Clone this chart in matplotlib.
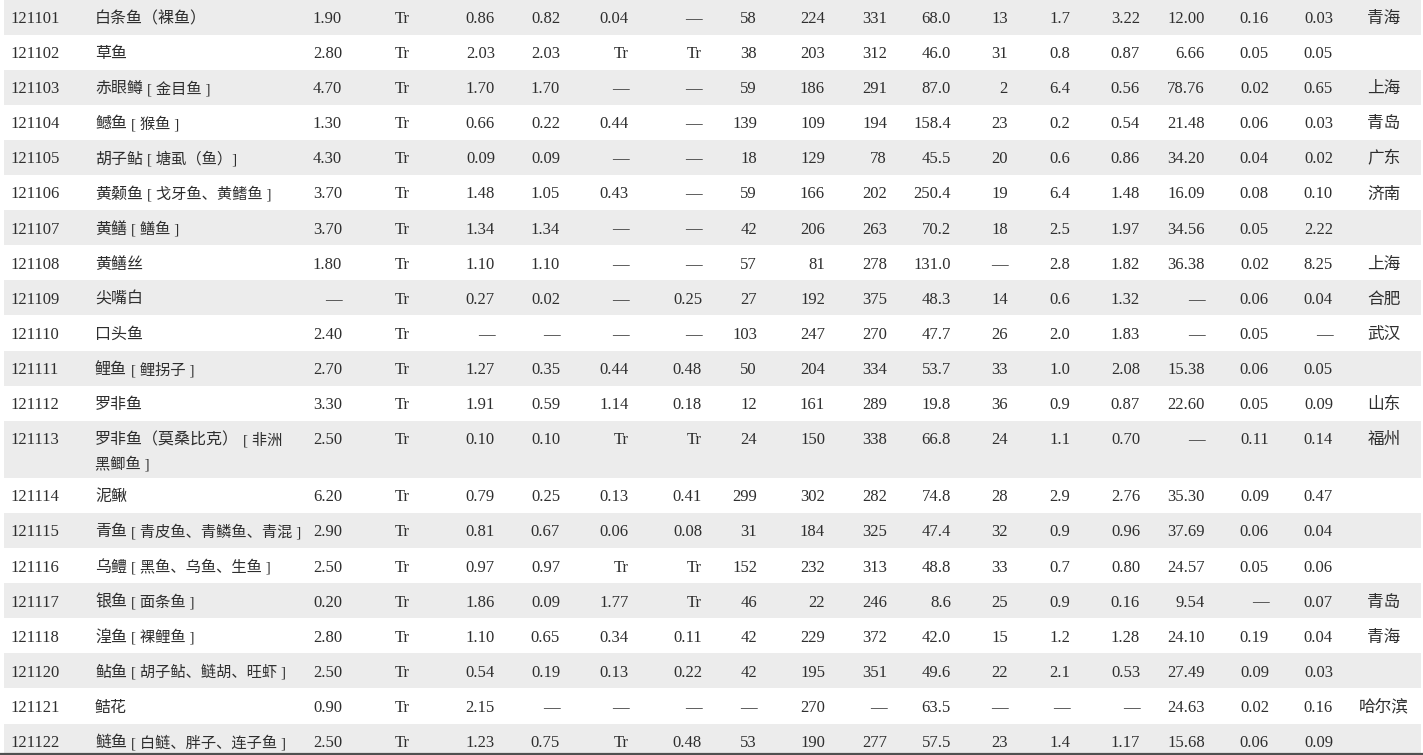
import matplotlib
matplotlib.use("Agg")
from matplotlib import pyplot as plt
from matplotlib.patches import Rectangle

plt.rcParams['font.family'] = ['Liberation Serif', 'Noto Sans CJK SC', 'DejaVu Sans']

# === Data ===
codes = ["121101", "121102", "121103", "121104", "121105", "121106", "121107",
         "121108", "121109", "121110", "121111", "121112", "121113", "121114",
         "121115", "121116", "121117", "121118", "121120", "121121", "121122"]
names = ["白条鱼（裸鱼）", "草鱼", "赤眼鳟 [ 金目鱼 ]", "鳡鱼 [ 猴鱼 ]",
         "胡子鲇 [ 塘虱（鱼）]", "黄颡鱼 [ 戈牙鱼、黄鳍鱼 ]", "黄鳝 [ 鳝鱼 ]",
         "黄鳝丝", "尖嘴白", "口头鱼", "鲤鱼 [ 鲤拐子 ]", "罗非鱼",
         "罗非鱼（莫桑比克）[ 非洲\n黑鲫鱼 ]", "泥鳅", "青鱼 [ 青皮鱼、青鳞鱼、青混 ]",
         "乌鳢 [ 黑鱼、乌鱼、生鱼 ]", "银鱼 [ 面条鱼 ]", "湟鱼 [ 裸鲤鱼 ]",
         "鲇鱼 [ 胡子鲇、鲢胡、旺虾 ]", "鲒花", "鲢鱼 [ 白鲢、胖子、连子鱼 ]"]
niacin = ["1.90", "2.80", "4.70", "1.30", "4.30", "3.70", "3.70", "1.80", "—", "2.40", "2.70",
          "3.30", "2.50", "6.20", "2.90", "2.50", "0.20", "2.80", "2.50", "0.90", "2.50"]
vit_c = ["Tr"] * 21
vit_e = ["0.86", "2.03", "1.70", "0.66", "0.09", "1.48", "1.34", "1.10", "0.27", "—", "1.27",
         "1.91", "0.10", "0.79", "0.81", "0.97", "1.86", "1.10", "0.54", "2.15", "1.23"]
vit_e_a = ["0.82", "2.03", "1.70", "0.22", "0.09", "1.05", "1.34", "1.10", "0.02", "—", "0.35",
           "0.59", "0.10", "0.25", "0.67", "0.97", "0.09", "0.65", "0.19", "—", "0.75"]
vit_e_bg = ["0.04", "Tr", "—", "0.44", "—", "0.43", "—", "—", "—", "—", "0.44",
            "1.14", "Tr", "0.13", "0.06", "Tr", "1.77", "0.34", "0.13", "—", "Tr"]
vit_e_d = ["—", "Tr", "—", "—", "—", "—", "—", "—", "0.25", "—", "0.48",
           "0.18", "Tr", "0.41", "0.08", "Tr", "Tr", "0.11", "0.22", "—", "0.48"]
calcium = ["58", "38", "59", "139", "18", "59", "42", "57", "27", "103", "50",
           "12", "24", "299", "31", "152", "46", "42", "42", "—", "53"]
phosphorus = ["224", "203", "186", "109", "129", "166", "206", "81", "192", "247", "204",
              "161", "150", "302", "184", "232", "22", "229", "195", "270", "190"]
potassium = ["331", "312", "291", "194", "78", "202", "263", "278", "375", "270", "334",
             "289", "338", "282", "325", "313", "246", "372", "351", "—", "277"]
sodium = ["68.0", "46.0", "87.0", "158.4", "45.5", "250.4", "70.2", "131.0", "48.3", "47.7", "53.7",
          "19.8", "66.8", "74.8", "47.4", "48.8", "8.6", "42.0", "49.6", "63.5", "57.5"]
magnesium = ["13", "31", "2", "23", "20", "19", "18", "—", "14", "26", "33",
             "36", "24", "28", "32", "33", "25", "15", "22", "—", "23"]
iron = ["1.7", "0.8", "6.4", "0.2", "0.6", "6.4", "2.5", "2.8", "0.6", "2.0", "1.0",
        "0.9", "1.1", "2.9", "0.9", "0.7", "0.9", "1.2", "2.1", "—", "1.4"]
zinc = ["3.22", "0.87", "0.56", "0.54", "0.86", "1.48", "1.97", "1.82", "1.32", "1.83", "2.08",
        "0.87", "0.70", "2.76", "0.96", "0.80", "0.16", "1.28", "0.53", "—", "1.17"]
selenium = ["12.00", "6.66", "78.76", "21.48", "34.20", "16.09", "34.56", "36.38", "—", "—", "15.38",
            "22.60", "—", "35.30", "37.69", "24.57", "9.54", "24.10", "27.49", "24.63", "15.68"]
copper = ["0.16", "0.05", "0.02", "0.06", "0.04", "0.08", "0.05", "0.02", "0.06", "0.05", "0.06",
          "0.05", "0.11", "0.09", "0.06", "0.05", "—", "0.19", "0.09", "0.02", "0.06"]
manganese = ["0.03", "0.05", "0.65", "0.03", "0.02", "0.10", "2.22", "8.25", "0.04", "—", "0.05",
             "0.09", "0.14", "0.47", "0.04", "0.06", "0.07", "0.04", "0.03", "0.16", "0.09"]
remarks = ["青海", "", "上海", "青岛", "广东", "济南", "", "上海", "合肥", "武汉", "",
           "山东", "福州", "", "", "", "青岛", "青海", "", "哈尔滨", ""]

# column layout: (values, x, alignment)
columns = [
    (codes, 10, "left"),
    (niacin, 342, "right"),
    (vit_c, 402, "center"),
    (vit_e, 495, "right"),
    (vit_e_a, 560, "right"),
    (vit_e_bg, 629, "right"),
    (vit_e_d, 702, "right"),
    (calcium, 757, "right"),
    (phosphorus, 825, "right"),
    (potassium, 887, "right"),
    (sodium, 951, "right"),
    (magnesium, 1008, "right"),
    (iron, 1070, "right"),
    (zinc, 1140, "right"),
    (selenium, 1205, "right"),
    (copper, 1269, "right"),
    (manganese, 1333, "right"),
    (remarks, 1384, "center"),
]
name_x = 95

W, H = 1423, 755
fig = plt.figure(figsize=(W / 100, H / 100), dpi=100)
ax = fig.add_axes([0, 0, 1, 1])
ax.set_xlim(0, W)
ax.set_ylim(H, 0)
ax.axis("off")
renderer = fig.canvas.get_renderer()

row_h = 35.1
line_gap = 24
text_col = "#2e2e2e"
band_col = "#ececec"
fs = 12
fs_name = 11.5
fs_alias = 11

top = -0.5
for i in range(len(codes)):
    lines = names[i].split("\n")
    h = row_h + (len(lines) - 1) * 22
    if i % 2 == 0:
        ax.add_patch(Rectangle((4, top), W - 6, h, color=band_col, lw=0, zorder=0))
    base = top + 23.5
    for vals, x, ha in columns:
        ax.text(x, base, vals[i], ha=ha, va="baseline",
                fontsize=fs, color=text_col, zorder=2)

    # name: main part normal size, bracketed alias a bit smaller
    first = lines[0]
    cut = first.find("[")
    main = first if cut < 0 else first[:cut].rstrip()
    t = ax.text(name_x, base, main, ha="left", va="baseline",
                fontsize=fs_name, color=text_col, zorder=2)
    if cut >= 0:
        x1 = ax.transData.inverted().transform(t.get_window_extent(renderer))[1][0]
        ax.text(x1 + 4, base, first[cut:], ha="left", va="baseline",
                fontsize=fs_alias, color=text_col, zorder=2)
    for k, line in enumerate(lines[1:], start=1):
        ax.text(name_x, base + k * line_gap, line, ha="left", va="baseline",
                fontsize=fs_alias, color=text_col, zorder=2)
    top += h

ax.plot([0, W], [753.5, 753.5], color="#505050", lw=1.6, zorder=3)

fig.savefig("out.png", dpi=100)
